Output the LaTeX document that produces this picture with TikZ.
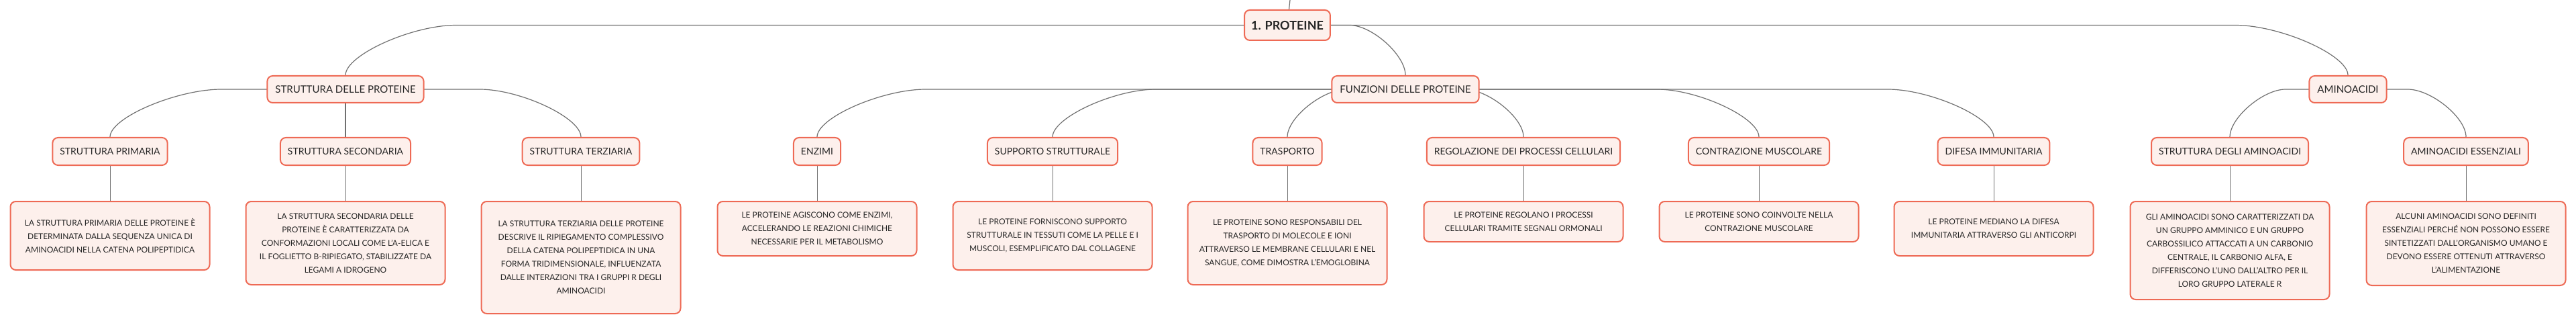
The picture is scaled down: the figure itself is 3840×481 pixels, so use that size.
\documentclass[tikz,border=0pt]{standalone}
\usepackage{fontspec}
\setmainfont{Lato}
\usetikzlibrary{backgrounds}
\definecolor{boxline}{HTML}{EE6A55}
\definecolor{boxfill}{HTML}{FDF0EC}
\definecolor{linkgray}{HTML}{707070}

\begin{document}
\begin{tikzpicture}[x=1pt,y=-1pt]
	\tikzset{box/.style={draw=boxline,fill=boxfill,line width=2pt,rounded corners=8pt,align=center,text=black!85}}
	\tikzset{topic/.style={box,font=\fontsize{15}{17}\selectfont,minimum height=40pt,inner xsep=12pt}}
	\tikzset{subtopic/.style={box,font=\fontsize{14}{16}\selectfont,minimum height=41pt,inner xsep=11pt}}
	\tikzset{detail/.style={box,font=\fontsize{12}{20}\selectfont,minimum width=297pt,inner xsep=3pt,anchor=north}}
	\tikzset{link/.style={draw=linkgray,line width=1.2pt}}
	\useasboundingbox (0,0) rectangle (3840,481);
	% main topics
	\node[box,font=\bfseries\fontsize{18}{20}\selectfont,minimum height=45pt,inner xsep=10pt] (root) at (1919,37.5) {1. PROTEINE};
	\coordinate (up) at (1923,0);
	\node[topic] (struttura) at (515,133) {STRUTTURA DELLE PROTEINE};
	\node[topic] (funzioni) at (2095,133) {FUNZIONI DELLE PROTEINE};
	\node[topic] (aminoacidi) at (3500,133) {AMINOACIDI};
	% subtopics
	\node[subtopic] (primaria) at (164,225.5) {STRUTTURA PRIMARIA};
	\node[subtopic] (secondaria) at (515,225.5) {STRUTTURA SECONDARIA};
	\node[subtopic] (terziaria) at (866,225.5) {STRUTTURA TERZIARIA};
	\node[subtopic] (enzimi) at (1218,225.5) {ENZIMI};
	\node[subtopic] (supporto) at (1569,225.5) {SUPPORTO STRUTTURALE};
	\node[subtopic] (trasporto) at (1919,225.5) {TRASPORTO};
	\node[subtopic] (regolazione) at (2271,225.5) {REGOLAZIONE DEI PROCESSI CELLULARI};
	\node[subtopic] (contrazione) at (2622,225.5) {CONTRAZIONE MUSCOLARE};
	\node[subtopic] (difesa) at (2972,225.5) {DIFESA IMMUNITARIA};
	\node[subtopic] (strutamino) at (3324,225.5) {STRUTTURA DEGLI AMINOACIDI};
	\node[subtopic] (essenziali) at (3676,225.5) {AMINOACIDI ESSENZIALI};
	% descriptions
	\node[detail,minimum height=102pt] (dprimaria) at (164,299) {LA STRUTTURA PRIMARIA DELLE PROTEINE È\\DETERMINATA DALLA SEQUENZA UNICA DI\\AMINOACIDI NELLA CATENA POLIPEPTIDICA};
	\node[detail,minimum height=124pt] (dsecondaria) at (515,299) {LA STRUTTURA SECONDARIA DELLE\\PROTEINE È CARATTERIZZATA DA\\CONFORMAZIONI LOCALI COME L’A-ELICA E\\IL FOGLIETTO B-RIPIEGATO, STABILIZZATE DA\\LEGAMI A IDROGENO};
	\node[detail,minimum height=167pt] (dterziaria) at (866,299) {LA STRUTTURA TERZIARIA DELLE PROTEINE\\DESCRIVE IL RIPIEGAMENTO COMPLESSIVO\\DELLA CATENA POLIPEPTIDICA IN UNA\\FORMA TRIDIMENSIONALE, INFLUENZATA\\DALLE INTERAZIONI TRA I GRUPPI R DEGLI\\AMINOACIDI};
	\node[detail,minimum height=81pt] (denzimi) at (1218,299) {LE PROTEINE AGISCONO COME ENZIMI,\\ACCELERANDO LE REAZIONI CHIMICHE\\NECESSARIE PER IL METABOLISMO};
	\node[detail,minimum height=102pt] (dsupporto) at (1569,299) {LE PROTEINE FORNISCONO SUPPORTO\\STRUTTURALE IN TESSUTI COME LA PELLE E I\\MUSCOLI, ESEMPLIFICATO DAL COLLAGENE};
	\node[detail,minimum height=124pt] (dtrasporto) at (1919,299) {LE PROTEINE SONO RESPONSABILI DEL\\TRASPORTO DI MOLECOLE E IONI\\ATTRAVERSO LE MEMBRANE CELLULARI E NEL\\SANGUE, COME DIMOSTRA L’EMOGLOBINA};
	\node[detail,minimum height=60pt] (dregolazione) at (2271,299) {LE PROTEINE REGOLANO I PROCESSI\\CELLULARI TRAMITE SEGNALI ORMONALI};
	\node[detail,minimum height=60pt] (dcontrazione) at (2622,299) {LE PROTEINE SONO COINVOLTE NELLA\\CONTRAZIONE MUSCOLARE};
	\node[detail,minimum height=81pt] (ddifesa) at (2972,299) {LE PROTEINE MEDIANO LA DIFESA\\IMMUNITARIA ATTRAVERSO GLI ANTICORPI};
	\node[detail,minimum height=146pt] (dstrutamino) at (3324,299) {GLI AMINOACIDI SONO CARATTERIZZATI DA\\UN GRUPPO AMMINICO E UN GRUPPO\\CARBOSSILICO ATTACCATI A UN CARBONIO\\CENTRALE, IL CARBONIO ALFA, E\\DIFFERISCONO L’UNO DALL’ALTRO PER IL\\LORO GRUPPO LATERALE R};
	\node[detail,minimum height=125pt] (dessenziali) at (3676,299) {ALCUNI AMINOACIDI SONO DEFINITI\\ESSENZIALI PERCHÉ NON POSSONO ESSERE\\SINTETIZZATI DALL’ORGANISMO UMANO E\\DEVONO ESSERE OTTENUTI ATTRAVERSO\\L’ALIMENTAZIONE};
	% connectors, behind the boxes
	\begin{scope}[on background layer]
		\draw[link] (root) -- (up);
		\draw[link] (root.center) -- ([xshift=165]struttura.north |- root.center) .. controls +(-66,0) and +(0,-30) .. (struttura.north);
		\draw[link] (root.center) -- ([xshift=-83]funzioni.north |- root.center) .. controls +(33,0) and +(0,-30) .. (funzioni.north);
		\draw[link] (root.center) -- ([xshift=-168]aminoacidi.north |- root.center) .. controls +(67,0) and +(0,-30) .. (aminoacidi.north);
		\draw[link] (struttura.center) -- ([xshift=166]primaria.north |- struttura.center) .. controls +(-66,0) and +(0,-29) .. (primaria.north);
		\draw[link] (struttura.center) -- (secondaria.north);
		\draw[link] (struttura.center) -- ([xshift=-151]terziaria.north |- struttura.center) .. controls +(60,0) and +(0,-29) .. (terziaria.north);
		\draw[link] (funzioni.center) -- ([xshift=162]enzimi.north |- funzioni.center) .. controls +(-65,0) and +(0,-29) .. (enzimi.north);
		\draw[link] (funzioni.center) -- ([xshift=154]supporto.north |- funzioni.center) .. controls +(-62,0) and +(0,-29) .. (supporto.north);
		\draw[link] (funzioni.center) -- ([xshift=88]trasporto.north |- funzioni.center) .. controls +(-35,0) and +(0,-29) .. (trasporto.north);
		\draw[link] (funzioni.center) -- ([xshift=-88]regolazione.north |- funzioni.center) .. controls +(35,0) and +(0,-29) .. (regolazione.north);
		\draw[link] (funzioni.center) -- ([xshift=-152]contrazione.north |- funzioni.center) .. controls +(61,0) and +(0,-29) .. (contrazione.north);
		\draw[link] (funzioni.center) -- ([xshift=-158]difesa.north |- funzioni.center) .. controls +(63,0) and +(0,-29) .. (difesa.north);
		\draw[link] (aminoacidi.center) -- ([xshift=83]strutamino.north |- aminoacidi.center) .. controls +(-33,0) and +(0,-29) .. (strutamino.north);
		\draw[link] (aminoacidi.center) -- ([xshift=-87]essenziali.north |- aminoacidi.center) .. controls +(35,0) and +(0,-29) .. (essenziali.north);
		\foreach \n in {primaria,secondaria,terziaria,enzimi,supporto,trasporto,regolazione,contrazione,difesa,strutamino,essenziali}
			\draw[link,line width=1pt] (\n) -- (d\n);
	\end{scope}
\end{tikzpicture}
\end{document}
